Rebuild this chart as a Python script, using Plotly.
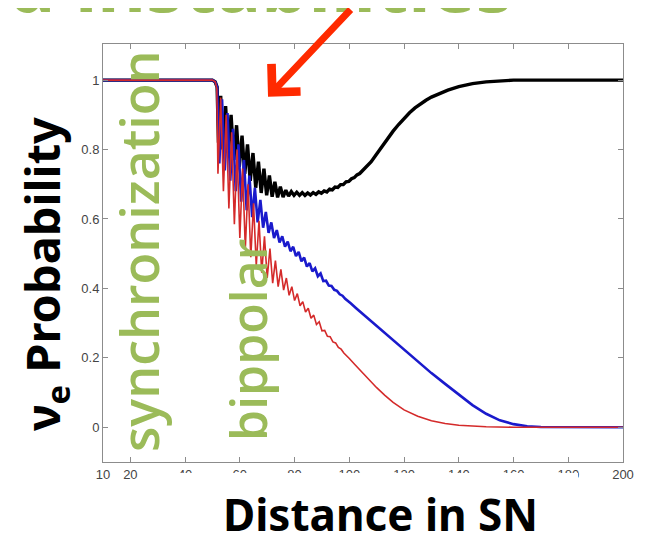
import plotly.graph_objects as go

# ---------------- data ----------------
x_tick_vals = [10, 20, 40, 60, 80, 100, 120, 140, 160, 180, 200]
x_tick_text = ["10", "20", "40", "60", "80", "100", "120", "140", "160", "180", "200"]
y_tick_vals = [0, 0.2, 0.4, 0.6, 0.8, 1]
y_tick_text = ["0", "0.2", "0.4", "0.6", "0.8", "1"]

black_x = [10, 50, 51, 51.7, 52.2, 53.0, 53.8, 54.8, 55.8, 56.8, 57.8, 58.8, 59.8, 60.8,
           61.8, 62.8, 63.8, 64.8, 65.8, 66.8, 67.8, 68.8, 69.8, 70.8, 71.8, 72.8, 73.8,
           74.8, 75.8, 76.8, 77.8, 78.8, 79.8, 80.8, 81.8, 82.8, 83.8, 84.8, 85.8, 86.8,
           87.8, 88.8, 89.8, 90.8, 91.8, 92.8, 93.8, 94.8, 95.8, 96.8, 97.8, 98.8, 99.8,
           100.8, 101.8, 102.8, 103.8, 104.8, 106, 108, 110, 112, 114, 116, 118, 120, 122,
           124, 126, 128, 130, 133, 136, 140, 145, 150, 155, 160, 200]
black_y = [1, 1, 0.995, 0.98, 0.82, 0.955, 0.80, 0.925, 0.79, 0.90, 0.77, 0.87, 0.75, 0.84,
           0.73, 0.815, 0.71, 0.79, 0.69, 0.765, 0.675, 0.745, 0.668, 0.725, 0.664, 0.707, 0.662,
           0.693, 0.663, 0.683, 0.666, 0.679, 0.668, 0.677, 0.668, 0.676, 0.668, 0.675, 0.669, 0.676,
           0.671, 0.678, 0.674, 0.681, 0.678, 0.686, 0.684, 0.692, 0.691, 0.699, 0.699, 0.707, 0.708,
           0.716, 0.719, 0.727, 0.731, 0.739, 0.748, 0.765, 0.787, 0.81, 0.832, 0.853, 0.872, 0.89, 0.906,
           0.92, 0.932, 0.942, 0.951, 0.962, 0.971, 0.981, 0.99, 0.995, 0.998, 1, 1]

blue_x = [10, 50, 51, 51.7, 52.5, 53.5, 54.5, 55.5, 56.5, 57.5, 58.5, 59.5, 60.5, 61.5,
          62.5, 63.5, 64.5, 65.5, 66.5, 67.5, 68.5, 69.5, 70.5, 71.5, 72.5, 73.5, 74.5,
          75.5, 76.5, 77.5, 78.5, 79.5, 80.5, 81.5, 82.5, 83.5, 84.5, 85.5, 86.5, 87.5,
          88.5, 89.5, 90.5, 91.5, 92.5, 93.5, 94.5, 95.5, 96.5, 97.5, 98.5, 99.5, 100.5,
          102.5, 105, 107, 110, 115, 120, 125, 130, 135, 140, 145, 150, 155,
          160, 165, 170, 180, 200]
blue_y = [1, 1, 0.995, 0.98, 0.76, 0.945, 0.74, 0.905, 0.71, 0.86, 0.68, 0.815, 0.65, 0.77,
          0.625, 0.725, 0.605, 0.69, 0.59, 0.655, 0.575, 0.62, 0.56, 0.59, 0.545, 0.568, 0.532,
          0.55, 0.52, 0.535, 0.507, 0.52, 0.493, 0.505, 0.478, 0.489, 0.463, 0.473, 0.449, 0.458,
          0.435, 0.443, 0.421, 0.422, 0.408, 0.407, 0.396, 0.393, 0.383, 0.379, 0.37, 0.364, 0.357,
          0.343, 0.326, 0.312, 0.292, 0.258, 0.224, 0.19, 0.156, 0.125, 0.094, 0.064,
          0.039, 0.02, 0.009, 0.003, 0.001, 0, 0]

red_x = [10, 50, 51, 51.6, 52, 53, 54, 55, 56, 57, 58, 59, 60, 61, 62, 63, 64, 65, 66, 67,
         68, 69, 70, 71, 72, 73, 74, 75, 76, 77, 78, 79, 80, 81, 82, 83, 84, 85, 86, 87, 88,
         89, 90, 91, 92, 93, 94, 95, 96, 97, 98, 99, 100, 102, 104, 106, 108,
         110, 113, 116, 120, 125, 130, 135, 140, 145, 150, 160, 200]
red_y = [1, 1, 0.995, 0.975, 0.73, 0.95, 0.68, 0.90, 0.63, 0.85, 0.585, 0.80, 0.545, 0.745,
         0.515, 0.70, 0.49, 0.645, 0.465, 0.595, 0.445, 0.55, 0.43, 0.515, 0.415, 0.48, 0.405,
         0.455, 0.395, 0.43, 0.38, 0.405, 0.365, 0.385, 0.35, 0.362, 0.332, 0.343, 0.314, 0.323,
         0.296, 0.304, 0.278, 0.279, 0.262, 0.261, 0.246, 0.243, 0.23, 0.225, 0.214, 0.207, 0.198,
         0.181, 0.164, 0.147, 0.13, 0.114, 0.092, 0.072, 0.05, 0.032, 0.019,
         0.011, 0.006, 0.003, 0.0015, 0, 0]

assert len(black_x) == len(black_y)
assert len(blue_x) == len(blue_y)
assert len(red_x) == len(red_y)

# ---------------- layout geometry ----------------
# the page body has an 8 px margin, so the figure is drawn 8 px right/down
BODY = 8
PAGE_W, PAGE_H = 645, 539
W, H = PAGE_W - BODY, PAGE_H - BODY
PLOT_L, PLOT_R, PLOT_T, PLOT_B = 103, 623, 44, 462      # plot area in page pixels
PW, PH = PLOT_R - PLOT_L, PLOT_B - PLOT_T


def px(xp):
    return (xp - PLOT_L) / PW


def py(yp):
    return (PLOT_B - yp) / PH


GREEN = "#9BBB59"

fig = go.Figure()
fig.add_trace(go.Scatter(x=black_x, y=black_y, mode="lines",
                         line=dict(color="#000000", width=3.4), showlegend=False))
fig.add_trace(go.Scatter(x=blue_x, y=blue_y, mode="lines",
                         line=dict(color="#1a1acc", width=2.6), showlegend=False))
fig.add_trace(go.Scatter(x=red_x, y=red_y, mode="lines",
                         line=dict(color="#d42a2a", width=1.6), showlegend=False))

axis_common = dict(showgrid=False, zeroline=False, showline=True, linecolor="#8c8c8c",
                   linewidth=1, mirror="ticks", ticks="inside", ticklen=5,
                   tickcolor="#8c8c8c", tickwidth=1,
                   tickfont=dict(family="Liberation Sans, Arial", size=13, color="#444444"))

fig.update_xaxes(range=[10, 200], tickmode="array", tickvals=x_tick_vals,
                 ticktext=x_tick_text, **axis_common)
fig.update_yaxes(range=[-0.1, 1.104], tickmode="array", tickvals=y_tick_vals,
                 ticktext=y_tick_text, **axis_common)

annotations = [
    # slide title, mostly cut off at the top
    dict(text="d instabilities", xref="paper", yref="paper", x=px(515), y=py(36),
         xanchor="right", yanchor="bottom", showarrow=False,
         font=dict(family="Noto Sans", size=75, color=GREEN, weight="bold")),
    # y-axis title
    dict(text="ν<sub>e</sub> Probability", xref="paper", yref="paper", x=px(45), y=py(274),
         xanchor="center", yanchor="middle", textangle=-90, showarrow=False,
         font=dict(family="Noto Sans", size=47, color="#000000", weight="bold")),
    # x-axis title
    dict(text="Distance in SN", xref="paper", yref="paper", x=px(380), y=py(514),
         xanchor="center", yanchor="middle", showarrow=False,
         font=dict(family="Noto Sans", size=44, color="#000000", weight="bold")),
    # green vertical labels
    dict(text="synchronization", xref="paper", yref="paper", x=px(138), y=py(251),
         xanchor="center", yanchor="middle", textangle=-90, showarrow=False,
         font=dict(family="Open Sans", size=52, color=GREEN, weight=600)),
    dict(text="bippolar", xref="paper", yref="paper", x=px(248), y=py(340),
         xanchor="center", yanchor="middle", textangle=-90, showarrow=False,
         font=dict(family="Open Sans", size=50, color=GREEN, weight=600)),
    # red arrow
    dict(text="", x=70.3, y=0.952, xref="x", yref="y", showarrow=True,
         ax=84, ay=-92, arrowhead=4, arrowwidth=7, arrowsize=1.1, arrowcolor="#ff2a00"),
]

fig.update_layout(
    width=W, height=H, autosize=False,
    margin=dict(l=PLOT_L - BODY, r=PAGE_W - PLOT_R, t=PLOT_T - BODY, b=PAGE_H - PLOT_B, pad=0),
    paper_bgcolor="white", plot_bgcolor="white",
    annotations=annotations,
    shapes=[dict(type="rect", xref="paper", yref="paper", x0=px(150), x1=px(578),
                 y0=py(473), y1=py(486), fillcolor="white", line=dict(width=0),
                 layer="above")],
)

fig.write_html("out.html")
